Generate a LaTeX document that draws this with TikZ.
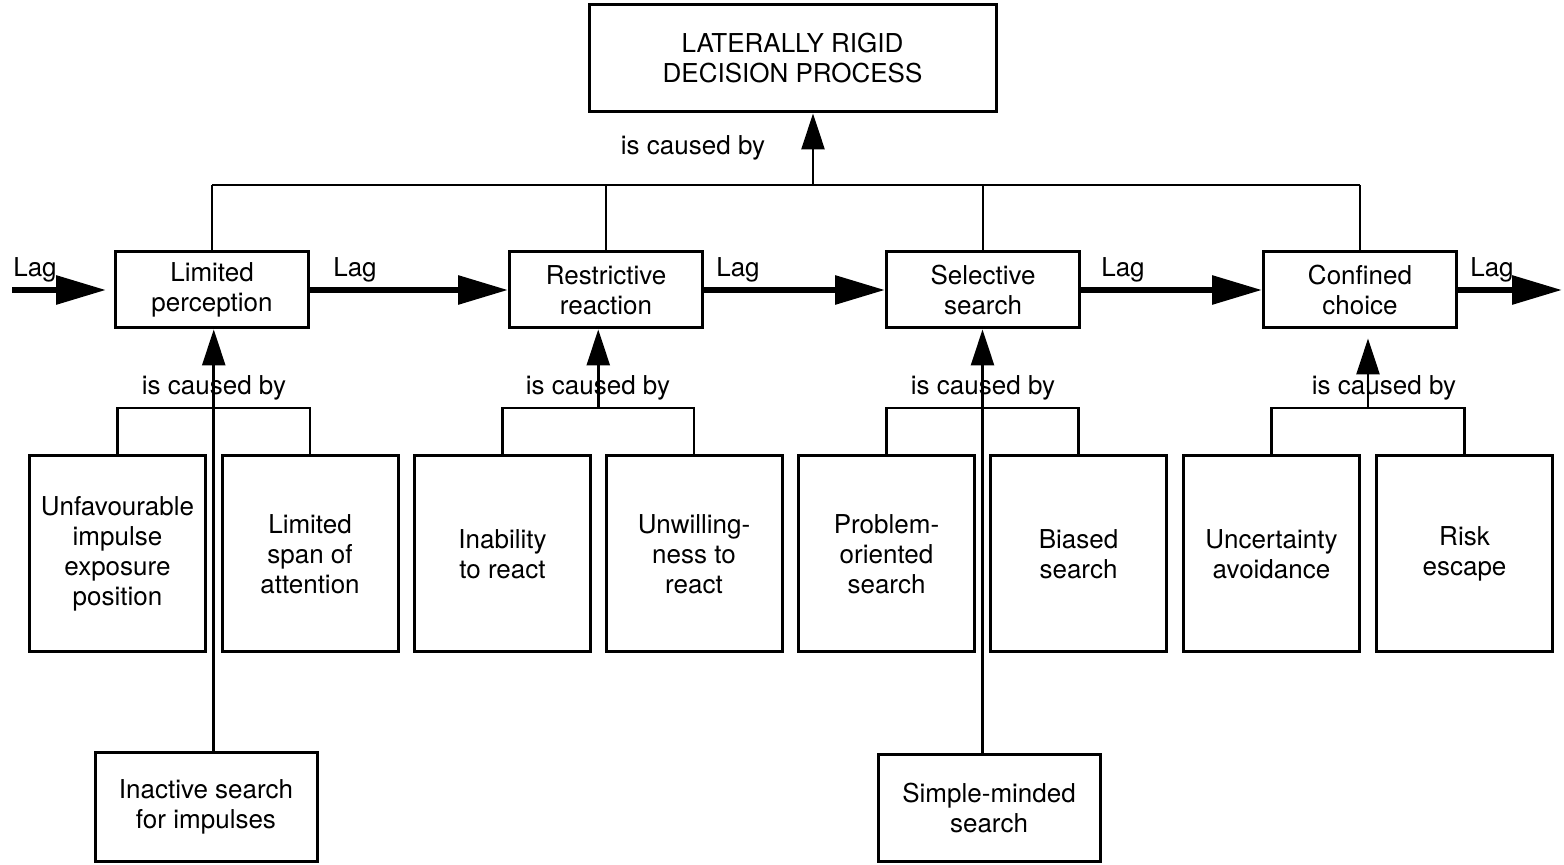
\documentclass[tikz,border=0pt]{standalone}
\usepackage{fontspec}
\setmainfont{TeX Gyre Heros}
\usetikzlibrary{arrows.meta, calc, positioning}

\begin{document}
\begin{tikzpicture}[x=0.5pt, y=-0.5pt,
		every node/.style={font=\fontsize{13}{15}\selectfont, align=center},
		box/.style={draw, line width=1.5pt, inner sep=0pt},
		mainbox/.style={box, minimum width=96.5pt, minimum height=38pt},
		causebox/.style={box, minimum width=88pt, minimum height=98pt},
		lag/.style={line width=3pt, -{Triangle[length=25pt, width=14pt]}},
		cause/.style={line width=1.4pt, -{Triangle[length=18pt, width=11.5pt]}},
		link/.style={line width=1.2pt},
		lbl/.style={inner sep=0pt}]
		\useasboundingbox (0,0) rectangle (1564,865);
		% top box
		\node[box, minimum width=203.5pt, minimum height=53.5pt] (top) at (792.5,58.5) {LATERALLY RIGID\\DECISION PROCESS};
		% main row
		\node[mainbox] (lp) at (212,290) {Limited\\perception};
		\node[mainbox] (rr) at (606,290) {Restrictive\\reaction};
		\node[mainbox] (ss) at (983,290) {Selective\\search};
		\node[mainbox] (cc) at (1360,290) {Confined\\choice};
		% causes
		\node[causebox] (ua) at (117.5,554) {Unfavourable\\impulse\\exposure\\position};
		\node[causebox] (la) at (310,554) {Limited\\span of\\attention};
		\node[causebox] (ir) at (502.5,554) {Inability\\to react};
		\node[causebox] (ur) at (694,554) {Unwilling-\\ness to\\react};
		\node[causebox] (po) at (886.5,554) {Problem-\\oriented\\search};
		\node[causebox] (bs) at (1078.5,554) {Biased\\search};
		\node[causebox] (ua2) at (1271.5,554) {Uncertainty\\avoidance};
		\node[causebox] (re) at (1464.5,554) {Risk\\escape};
		% bottom boxes
		\node[box, minimum width=111pt, minimum height=54.5pt] (is) at (206,807) {Inactive search\\for impulses};
		\node[box, minimum width=111pt, minimum height=53.5pt] (sm) at (989,808) {Simple-minded\\search};
		%
		% bus to the top box
		\coordinate (hub) at (813,185);
		\draw[link] (lp.north |- hub) -- (cc.north |- hub);
		\foreach \n in {lp,rr,ss,cc}{
			\draw[link] (\n.north) -- (\n.north |- hub);
		}
		\draw[cause] (hub) -- (hub |- top.south);
		\node[lbl] (cl0) at (693,148) {is caused by};
		% lag arrows
		\coordinate (lagin) at (12,290);
		\coordinate (lagout) at (1562,290);
		\draw[lag, shorten >=4pt] (lagin) -- (lp);
		\foreach \a/\b in {lp/rr,rr/ss,ss/cc}{
			\draw[lag] (\a) -- (\b);
		}
		\draw[lag] (cc) -- (lagout);
		\foreach \x [count=\i] in {35,355,738,1123,1492}{
			\node (lag\i) at (\x,270) {Lag};
		}
		% cause groups
		\coordinate (sub) at (0,408);
		\foreach \a/\b [count=\i] in {ua/la,ir/ur,po/bs,ua2/re}{
			\draw[link] (\a.north) -- (\a.north |- sub) -- (\b.north |- sub) -- (\b.north);
			\coordinate (cb\i) at ($(\a.north |- sub)!0.5!(\b.north |- sub)$);
		}
		\draw[cause] (cb1 |- is.north) -- (cb1 |- lp.south);
		\draw[cause] (cb2) -- (cb2 |- rr.south);
		\draw[cause] (cb3 |- sm.north) -- (cb3 |- ss.south);
		\draw[cause, shorten >=4.5pt] (cb4) -- (cb4 |- cc.south);
		\foreach \x [count=\i] in {214,598,983,1384}{
			\node[lbl] (cl\i) at (\x,388) {is caused by};
		}
	\end{tikzpicture}
\end{document}
